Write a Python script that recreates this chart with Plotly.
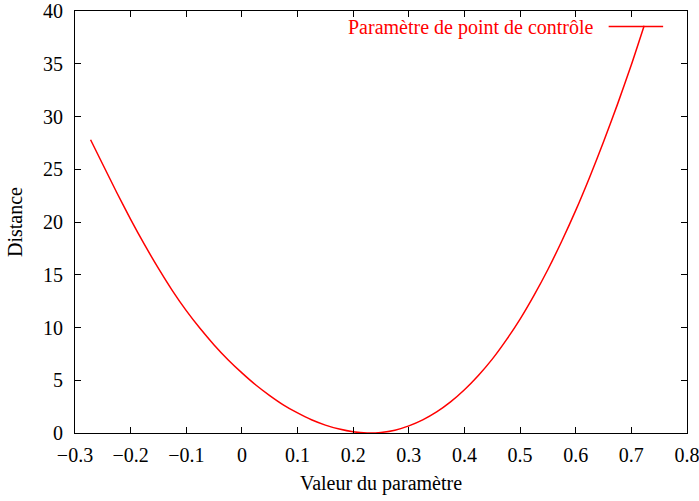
import plotly.graph_objects as go

# Distance en fonction de la valeur du paramètre
param = [-0.272, -0.25, -0.225, -0.2, -0.175, -0.15, -0.125, -0.1, -0.075, -0.05,
         -0.025, 0.0, 0.025, 0.05, 0.075, 0.1, 0.125, 0.15, 0.175, 0.2,
         0.225, 0.25, 0.275, 0.3, 0.325, 0.35, 0.375, 0.4, 0.425, 0.45,
         0.475, 0.5, 0.525, 0.55, 0.575, 0.6, 0.625, 0.65, 0.675, 0.7, 0.723]
distance = [27.8, 25.45, 22.8, 20.25, 17.85, 15.6, 13.5, 11.6, 9.9, 8.35,
            6.95, 5.7, 4.55, 3.55, 2.65, 1.9, 1.25, 0.75, 0.37, 0.11,
            0.0, 0.05, 0.27, 0.68, 1.25, 2.0, 2.95, 4.1, 5.45, 7.0,
            8.8, 10.8, 13.05, 15.5, 18.2, 21.1, 24.25, 27.6, 31.15, 34.9, 38.6]

x_ticks = [-0.3, -0.2, -0.1, 0, 0.1, 0.2, 0.3, 0.4, 0.5, 0.6, 0.7, 0.8]
x_labels = ["\u22120.3", "\u22120.2", "\u22120.1", "0", "0.1", "0.2", "0.3",
            "0.4", "0.5", "0.6", "0.7", "0.8"]
y_ticks = [0, 5, 10, 15, 20, 25, 30, 35, 40]

series_name = "Paramètre de point de contrôle"
RED = "#ff0000"
FONT = "Liberation Serif"
FS = 20

fig = go.Figure()
fig.add_trace(go.Scatter(
    x=param, y=distance, mode="lines", name=series_name,
    line=dict(color=RED, width=1.5, shape="spline", smoothing=0.6),
    showlegend=False,
))

# Légende à la manière de gnuplot : texte à gauche, échantillon de ligne à droite
fig.add_annotation(
    xref="paper", yref="paper", x=0.851, y=0.962, xanchor="right", yanchor="middle",
    text=series_name, showarrow=False, font=dict(family=FONT, size=FS, color=RED),
)
fig.add_shape(
    type="line", xref="paper", yref="paper", x0=0.872, x1=0.961, y0=0.963, y1=0.963,
    line=dict(color=RED, width=1.5),
)

axis_common = dict(
    showline=True, linecolor="black", linewidth=1, mirror="allticks",
    ticks="inside", ticklen=6, tickcolor="black", tickwidth=1,
    showgrid=False, zeroline=False,
    tickfont=dict(family=FONT, size=FS, color="black"),
    ticklabeloverflow="allow", automargin=False,
)

fig.update_xaxes(
    range=[-0.3, 0.8], tickvals=x_ticks, ticktext=x_labels,
    title=dict(text="Valeur du paramètre", font=dict(family=FONT, size=FS, color="black"), standoff=10),
    ticklabelstandoff=4,
    **axis_common,
)
fig.update_yaxes(
    range=[0, 40], tickvals=y_ticks,
    title=dict(text="Distance", font=dict(family=FONT, size=FS, color="black"), standoff=15),
    ticklabelstandoff=7,
    **axis_common,
)

fig.update_layout(
    width=699, height=501,
    margin=dict(l=75, r=12, t=11, b=68),
    plot_bgcolor="white", paper_bgcolor="white",
    font=dict(family=FONT, size=FS, color="black"),
)

fig.write_html("out.html")
